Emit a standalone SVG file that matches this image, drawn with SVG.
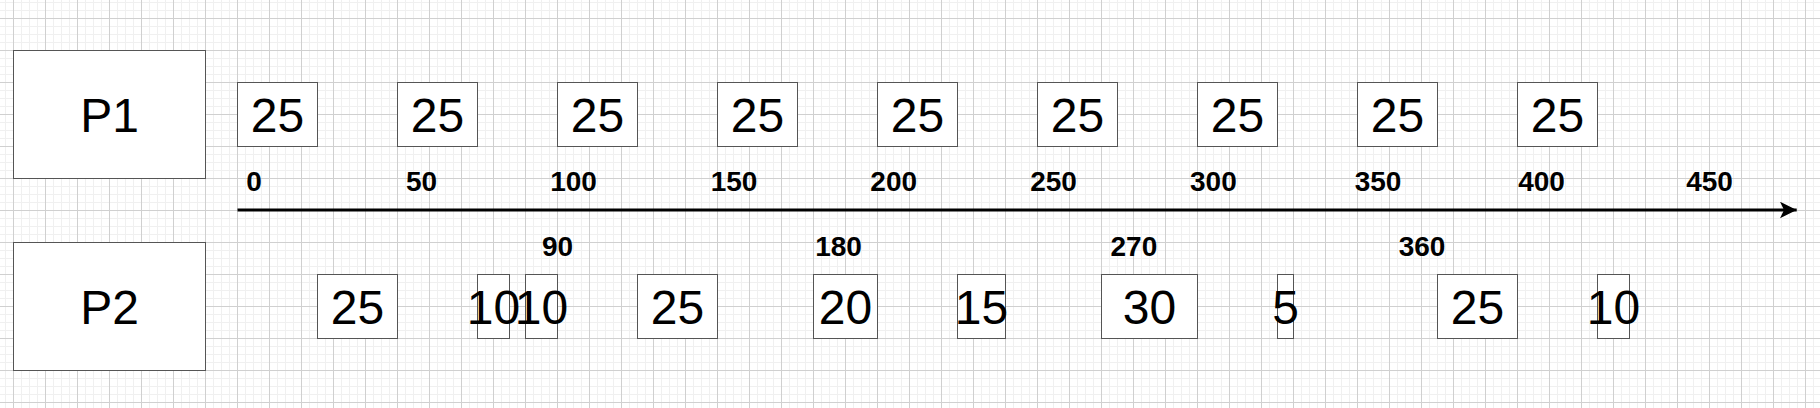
<svg xmlns="http://www.w3.org/2000/svg" width="1820" height="408" viewBox="0 0 1820 408">
  <defs>
    <pattern id="grid" x="13" y="18" width="32" height="32" patternUnits="userSpaceOnUse">
      <path d="M8.5 0V32M16.5 0V32M24.5 0V32M0 8.5H32M0 16.5H32M0 24.5H32" stroke="#f0f0f0" stroke-width="1" fill="none"/>
      <path d="M0.5 0V32M0 0.5H32" stroke="#d0d0d0" stroke-width="1" fill="none"/>
    </pattern>
    <marker id="arrow" viewBox="0 0 17 17" refX="16.7" refY="8.5" markerWidth="17" markerHeight="17" markerUnits="userSpaceOnUse" orient="auto">
      <path d="M0 0.2L16.7 8.5L0 16.8L4 8.5Z" fill="#000"/>
    </marker>
    <style>
      .box{fill:#fff;stroke:#555;stroke-width:1}
      .big{font-family:"Liberation Sans",Arial,Helvetica,sans-serif;font-size:48px;fill:#000;text-anchor:middle}
      .lbl{font-family:"Liberation Sans",Arial,Helvetica,sans-serif;font-size:28px;font-weight:bold;fill:#000;text-anchor:middle}
    </style>
  </defs>
  <rect x="0" y="0" width="1820" height="408" fill="#fff"/>
  <rect x="0" y="0" width="1820" height="408" fill="url(#grid)"/>

  <g id="P1"><rect class="box" x="13.5" y="50.5" width="192" height="128"/><text class="big" x="109.5" y="131.5">P1</text></g>
  <g id="P2"><rect class="box" x="13.5" y="242.5" width="192" height="128"/><text class="big" x="109.5" y="323.5">P2</text></g>

  <g id="p1-tasks">
    <g id="p1-t0"><rect class="box" x="237.5" y="82.5" width="80" height="64"/><text class="big" x="277.5" y="131.5">25</text></g>
    <g id="p1-t50"><rect class="box" x="397.5" y="82.5" width="80" height="64"/><text class="big" x="437.5" y="131.5">25</text></g>
    <g id="p1-t100"><rect class="box" x="557.5" y="82.5" width="80" height="64"/><text class="big" x="597.5" y="131.5">25</text></g>
    <g id="p1-t150"><rect class="box" x="717.5" y="82.5" width="80" height="64"/><text class="big" x="757.5" y="131.5">25</text></g>
    <g id="p1-t200"><rect class="box" x="877.5" y="82.5" width="80" height="64"/><text class="big" x="917.5" y="131.5">25</text></g>
    <g id="p1-t250"><rect class="box" x="1037.5" y="82.5" width="80" height="64"/><text class="big" x="1077.5" y="131.5">25</text></g>
    <g id="p1-t300"><rect class="box" x="1197.5" y="82.5" width="80" height="64"/><text class="big" x="1237.5" y="131.5">25</text></g>
    <g id="p1-t350"><rect class="box" x="1357.5" y="82.5" width="80" height="64"/><text class="big" x="1397.5" y="131.5">25</text></g>
    <g id="p1-t400"><rect class="box" x="1517.5" y="82.5" width="80" height="64"/><text class="big" x="1557.5" y="131.5">25</text></g>
  </g>

  <g id="p2-tasks">
    <g id="p2-t25"><rect class="box" x="317.5" y="274.5" width="80" height="64"/><text class="big" x="357.5" y="323.5">25</text></g>
    <g id="p2-t75"><rect class="box" x="477.5" y="274.5" width="32" height="64"/><text class="big" x="493.5" y="323.5">10</text></g>
    <g id="p2-t90"><rect class="box" x="525.5" y="274.5" width="32" height="64"/><text class="big" x="541.5" y="323.5">10</text></g>
    <g id="p2-t125"><rect class="box" x="637.5" y="274.5" width="80" height="64"/><text class="big" x="677.5" y="323.5">25</text></g>
    <g id="p2-t180"><rect class="box" x="813.5" y="274.5" width="64" height="64"/><text class="big" x="845.5" y="323.5">20</text></g>
    <g id="p2-t225"><rect class="box" x="957.5" y="274.5" width="48" height="64"/><text class="big" x="981.5" y="323.5">15</text></g>
    <g id="p2-t270"><rect class="box" x="1101.5" y="274.5" width="96" height="64"/><text class="big" x="1149.5" y="323.5">30</text></g>
    <g id="p2-t325"><rect class="box" x="1277.5" y="274.5" width="16" height="64"/><text class="big" x="1285.5" y="323.5">5</text></g>
    <g id="p2-t375"><rect class="box" x="1437.5" y="274.5" width="80" height="64"/><text class="big" x="1477.5" y="323.5">25</text></g>
    <g id="p2-t425"><rect class="box" x="1597.5" y="274.5" width="32" height="64"/><text class="big" x="1613.5" y="323.5">10</text></g>
  </g>

  <g id="axis-labels-top">
    <text class="lbl" x="254" y="191.3">0</text>
    <text class="lbl" x="421.5" y="191.3">50</text>
    <text class="lbl" x="573.5" y="191.3">100</text>
    <text class="lbl" x="734" y="191.3">150</text>
    <text class="lbl" x="893.7" y="191.3">200</text>
    <text class="lbl" x="1053.5" y="191.3">250</text>
    <text class="lbl" x="1213.4" y="191.3">300</text>
    <text class="lbl" x="1378" y="191.3">350</text>
    <text class="lbl" x="1541.5" y="191.3">400</text>
    <text class="lbl" x="1709.5" y="191.3">450</text>
  </g>
  <g id="axis-labels-bottom">
    <text class="lbl" x="557.5" y="256.3">90</text>
    <text class="lbl" x="838.5" y="256.3">180</text>
    <text class="lbl" x="1133.9" y="256.3">270</text>
    <text class="lbl" x="1422" y="256.3">360</text>
  </g>

  <g id="connectors">
    <path d="M237.5 210H1796.7" stroke="#000" stroke-width="3.2" fill="none" marker-end="url(#arrow)"/>
  </g>
</svg>
